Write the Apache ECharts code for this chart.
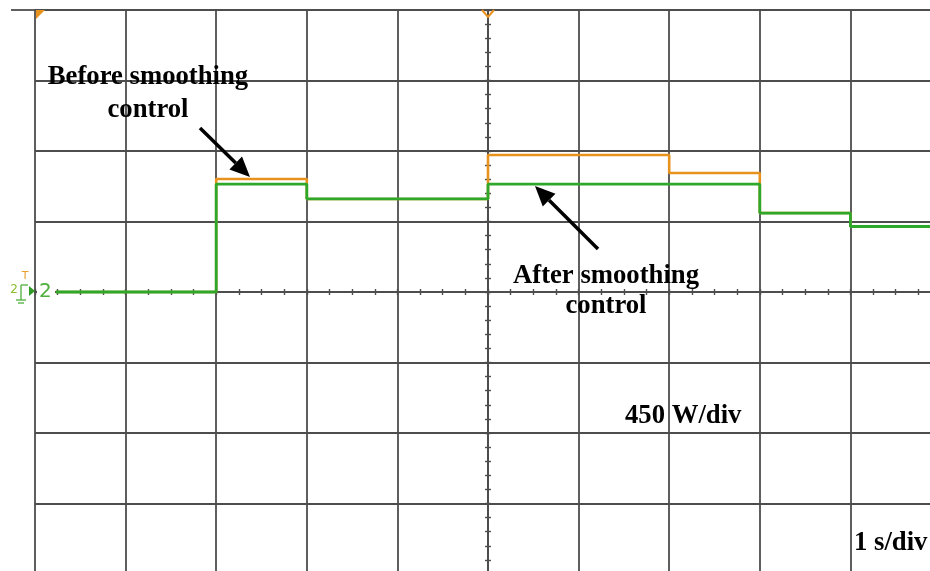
<!DOCTYPE html>
<html>
<head>
<meta charset="utf-8">
<script src="https://cdn.jsdelivr.net/npm/echarts@6/dist/echarts.min.js"></script>
<style>html,body{margin:0;padding:0;background:#fff;}#c{width:930px;height:571px;}</style>
</head>
<body>
<div id="c"></div>
<script>
// time in seconds relative to the trigger (centre of the screen), 1 s/div
var timeGreen  = [-4.77, -3, -2, 0, 3, 4, 5];
var powerGreen = [0, 689, 594, 689, 504, 418, 418];          // W, after smoothing control
var timeOrange  = [-4.77, -3, -2, 0, 2, 3, 4, 5];
var powerOrange = [0, 721, 594, 874, 760, 504, 418, 418];    // W, before smoothing control
var xTicks = { min: -5, max: 5, interval: 1 };
var yTicks = { min: -1800, max: 1800, interval: 450 };       // 450 W/div
var labels = {
  before: ['Before smoothing', 'control'],
  after: ['After smoothing', 'control'],
  vdiv: '450 W/div',
  hdiv: '1 s/div'
};

function pairs(t, v) { return t.map(function (x, i) { return [x, v[i]]; }); }

var gridCol = '#4d4d4d';
function xAx(pos, split) {
  return {
    type: 'value', position: pos, min: xTicks.min, max: xTicks.max, interval: xTicks.interval,
    axisLine: { show: true, onZero: true, onZeroAxisIndex: 0, lineStyle: { color: gridCol, width: 1.8 } },
    axisTick: { show: true, inside: false, length: 3, lineStyle: { color: gridCol, width: 1.4 } },
    minorTick: { show: true, splitNumber: 4, length: 3, lineStyle: { color: gridCol, width: 1.4 } },
    axisLabel: { show: false },
    splitLine: { show: split, lineStyle: { color: gridCol, width: 1.8 } }
  };
}
function yAx(pos, split) {
  return {
    type: 'value', position: pos, min: yTicks.min, max: yTicks.max, interval: yTicks.interval,
    axisLine: { show: true, onZero: true, onZeroAxisIndex: 0, lineStyle: { color: gridCol, width: 1.8 } },
    axisTick: { show: true, inside: false, length: 3, lineStyle: { color: gridCol, width: 1.4 } },
    minorTick: { show: true, splitNumber: 5, length: 3, lineStyle: { color: gridCol, width: 1.4 } },
    axisLabel: { show: false },
    splitLine: { show: split, lineStyle: { color: gridCol, width: 1.8 } }
  };
}

function arrow(tail, tip) {
  var dx = tip[0] - tail[0], dy = tip[1] - tail[1];
  var L = Math.sqrt(dx * dx + dy * dy), ux = dx / L, uy = dy / L;
  var hl = 20, hw = 9;
  var bx = tip[0] - hl * ux, by = tip[1] - hl * uy;
  return [
    { type: 'line', z: 50, shape: { x1: tail[0], y1: tail[1], x2: bx, y2: by }, style: { stroke: '#000', lineWidth: 3.5 } },
    { type: 'polygon', z: 50, shape: { points: [[tip[0], tip[1]], [bx - hw * uy, by + hw * ux], [bx + hw * uy, by - hw * ux]] }, style: { fill: '#000' } }
  ];
}

var serif = '"Liberation Serif", "Times New Roman", serif';
function txt(s, x, y, align) {
  return { type: 'text', z: 50, x: x, y: y, style: { text: s, fill: '#000', font: 'bold 26.7px ' + serif, textAlign: align || 'center', textVerticalAlign: 'middle' } };
}

var graphics = [
  // top border extension and trigger markers
  { type: 'line', z: 40, shape: { x1: 11, y1: 10, x2: 36, y2: 10 }, style: { stroke: gridCol, lineWidth: 1.8 } },
  { type: 'polygon', z: 40, shape: { points: [[36, 10], [45, 10], [36, 19]] }, style: { fill: '#e8921e' } },
  { type: 'polyline', z: 40, shape: { points: [[482, 10], [488, 17], [494, 10]] }, style: { stroke: '#e8921e', lineWidth: 2, fill: null } },
  // channel 2 marker
  { type: 'rect', z: 40, shape: { x: 37, y: 287, width: 18, height: 10 }, style: { fill: '#fff' } },
  { type: 'text', z: 41, x: 39, y: 292, style: { text: '2', fill: '#4caf3a', font: '20px "DejaVu Sans"', textAlign: 'left', textVerticalAlign: 'middle' } },
  { type: 'polygon', z: 41, shape: { points: [[29, 286], [35, 291], [29, 296]] }, style: { fill: '#2f9a25' } },
  { type: 'text', z: 41, x: 25, y: 276, style: { text: 'T', fill: '#e8a030', font: '11px "DejaVu Sans"', textAlign: 'center', textVerticalAlign: 'middle' } },
  { type: 'text', z: 41, x: 14, y: 290, style: { text: '2', fill: '#8bbf2a', font: '12px "DejaVu Sans"', textAlign: 'center', textVerticalAlign: 'middle' } },
  { type: 'line', z: 41, shape: { x1: 21, y1: 285, x2: 21, y2: 300 }, style: { stroke: '#4caf3a', lineWidth: 1.3 } },
  { type: 'line', z: 41, shape: { x1: 21, y1: 285, x2: 28, y2: 285 }, style: { stroke: '#4caf3a', lineWidth: 1.3 } },
  { type: 'line', z: 41, shape: { x1: 16, y1: 300, x2: 26, y2: 300 }, style: { stroke: '#4caf3a', lineWidth: 1.3 } },
  { type: 'line', z: 41, shape: { x1: 18, y1: 303, x2: 24, y2: 303 }, style: { stroke: '#4caf3a', lineWidth: 1.3 } },
  // annotations
  txt(labels.before[0], 148, 77),
  txt(labels.before[1], 148, 110),
  txt(labels.after[0], 606, 276),
  txt(labels.after[1], 606, 306),
  txt(labels.vdiv, 625, 416, 'left'),
  txt(labels.hdiv, 854, 543, 'left')
].concat(arrow([200, 128], [250, 177])).concat(arrow([598, 249], [535, 186]));

var chart = echarts.init(document.getElementById('c'), null, { renderer: 'canvas' });
chart.setOption({
  animation: false,
  backgroundColor: '#fff',
  grid: { left: 35, top: 10, width: 906, height: 564, show: false, outerBoundsMode: 'none', containLabel: false },
  xAxis: [xAx('bottom', true), xAx('top', false)],
  yAxis: [yAx('left', true), yAx('right', false)],
  series: [
    { name: 'Before smoothing control', type: 'line', step: 'end', showSymbol: false, z: 3,
      data: pairs(timeOrange, powerOrange), lineStyle: { color: '#e8921e', width: 2.6 } },
    { name: 'After smoothing control', type: 'line', step: 'end', showSymbol: false, z: 4,
      data: pairs(timeGreen, powerGreen), lineStyle: { color: '#2ea82a', width: 2.8 } }
  ],
  graphic: graphics
});
</script>
</body>
</html>
